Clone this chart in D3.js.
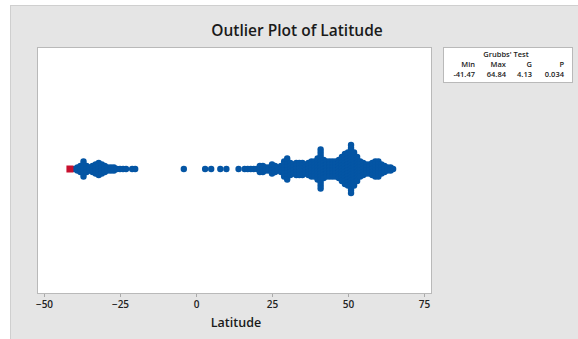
<!DOCTYPE html>
<html>
<head>
<meta charset="utf-8">
<script src="https://cdn.jsdelivr.net/npm/d3@7"></script>
<style>
  body { margin: 0; background: #fff; }
  text { font-family: "Open Sans", "Noto Sans", sans-serif; }
</style>
</head>
<body>
<svg id="chart" width="578" height="339"></svg>
<script>
// latitude columns and how many observations are stacked in each
const latitudes = [-40, -39, -38, -37, -36, -35, -34, -33, -32, -31, -30, -29, -28, -27, -26, -25, -24, -23, -21, -20,
  -4, 3, 5, 8, 10, 14, 16, 17, 18, 19, 20, 21, 22, 23, 24, 25, 26, 27, 28, 29, 30, 31, 32, 33, 34, 35, 36, 37, 38, 39,
  40, 41, 42, 43, 44, 45, 46, 47, 48, 49, 50, 51, 52, 53, 54, 55, 56, 57, 58, 59, 60, 61, 62, 63, 64, 64.84];
const counts = [1, 2, 3, 6, 3, 2, 3, 4, 5, 4, 3, 2, 2, 2, 1, 1, 1, 1, 1, 1,
  1, 1, 1, 1, 1, 1, 1, 1, 1, 1, 1, 3, 3, 2, 2, 4, 3, 2, 3, 6, 8, 5, 4, 5, 5, 5, 4, 5, 6, 6,
  8, 14, 7, 6, 6, 6, 6, 7, 9, 11, 12, 17, 12, 9, 6, 5, 4, 4, 5, 6, 6, 4, 3, 2, 2, 1];
const outliers = [-41.47];
const xTicks = [-50, -25, 0, 25, 50, 75];

const grubbsHead = ['Min', 'Max', 'G', 'P'];
const grubbsVals = ['-41.47', '64.84', '4.13', '0.034'];

const margin = { top: 47, left: 37, right: 431, bottom: 293 };
const svg = d3.select('#chart');

// gray panel
svg.append('rect')
  .attr('x', 10.5).attr('y', 5.5)
  .attr('width', 580).attr('height', 340)
  .attr('fill', '#e5e5e5').attr('stroke', '#cfcfcf');

svg.append('text')
  .text('Outlier Plot of Latitude')
  .attr('x', 297).attr('y', 36)
  .attr('text-anchor', 'middle')
  .attr('font-size', 15.5).attr('font-weight', 600)
  .attr('fill', '#1a1a1a');

// plot box
svg.append('rect')
  .attr('x', margin.left + 0.5).attr('y', margin.top + 0.5)
  .attr('width', margin.right - margin.left).attr('height', margin.bottom - margin.top)
  .attr('fill', '#fff').attr('stroke', '#b9b9b9');

const xScale = d3.scaleLinear().domain([-50, 75]).range([44, 424]);
const yScale = d3.scaleLinear().domain([-1, 1]).range([margin.bottom, margin.top]);
const yMid = yScale(0) - 1;
const step = 3;

const xAxis = d3.axisBottom(xScale).tickValues(xTicks).tickSize(3).tickPadding(4);
const xg = svg.append('g')
  .attr('transform', `translate(0,${margin.bottom + 1})`)
  .call(xAxis);
xg.select('.domain').remove();
xg.selectAll('line').attr('stroke', '#aaa');
xg.selectAll('text')
  .attr('font-size', 10).attr('font-weight', 600)
  .attr('fill', '#222')
  .style('font-family', '"Open Sans", sans-serif');

svg.append('text')
  .text('Latitude')
  .attr('x', 236).attr('y', 327)
  .attr('text-anchor', 'middle')
  .attr('font-size', 12.5).attr('font-weight', 600)
  .attr('fill', '#1a1a1a');

// dots
const dots = [];
latitudes.forEach((v, i) => {
  const n = counts[i];
  for (let k = 0; k < n; k++) dots.push({ v, off: (k - (n - 1) / 2) * step });
});

svg.append('g')
  .selectAll('circle')
  .data(dots)
  .enter()
  .append('circle')
  .attr('cx', (d) => xScale(d.v))
  .attr('cy', (d) => yMid + d.off)
  .attr('r', 3.2)
  .attr('fill', '#0455a4');

svg.append('g')
  .selectAll('rect')
  .data(outliers)
  .enter()
  .append('rect')
  .attr('x', (d) => xScale(d) - 3.5)
  .attr('y', yMid - 3.5)
  .attr('width', 7).attr('height', 7)
  .attr('fill', '#c8102e');

// Grubbs' test table
const tbl = svg.append('g');
tbl.append('rect')
  .attr('x', 443.5).attr('y', 47.5)
  .attr('width', 129).attr('height', 35)
  .attr('fill', '#fff').attr('stroke', '#b9b9b9');
tbl.append('text')
  .text("Grubbs' Test")
  .attr('x', 506).attr('y', 57)
  .attr('text-anchor', 'middle')
  .attr('font-size', 7.5).attr('font-weight', 600).attr('fill', '#222');
const colRight = [475, 506, 532, 564];
grubbsHead.forEach((h, i) => {
  tbl.append('text').text(h)
    .attr('x', colRight[i]).attr('y', 67)
    .attr('text-anchor', 'end')
    .attr('font-size', 7.5).attr('font-weight', 600).attr('fill', '#222');
  tbl.append('text').text(grubbsVals[i])
    .attr('x', colRight[i]).attr('y', 76.5)
    .attr('text-anchor', 'end')
    .attr('font-size', 7.5).attr('font-weight', 600).attr('fill', '#222');
});
</script>
</body>
</html>
